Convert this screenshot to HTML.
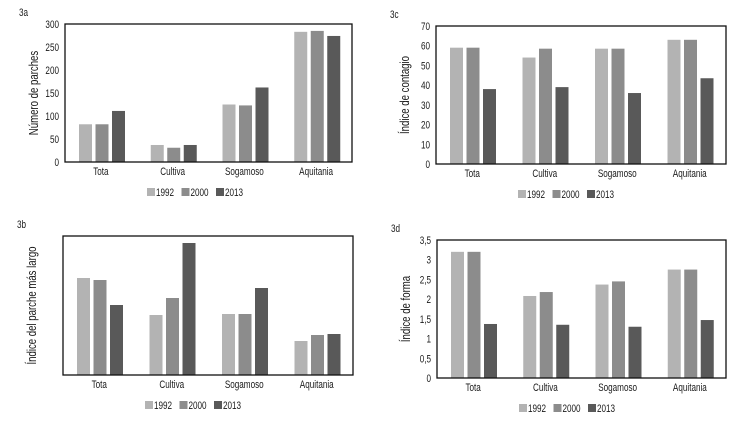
<!DOCTYPE html>
<html><head><meta charset="utf-8"><style>
html,body{margin:0;padding:0;background:#fff;}
svg{display:block;font-family:"Liberation Sans Narrow","Liberation Sans",sans-serif;}
</style></head><body>
<svg id="chart" width="734" height="424" viewBox="0 0 734 424" xmlns="http://www.w3.org/2000/svg"></svg>
<script>
const categories = ["Tota","Cultiva","Sogamoso","Aquitania"];
const years = ["1992","2000","2013"];
const colors = ["#b3b3b3","#8c8c8c","#595959"];
// 3a Número de parches
const a1992 = [82,37,125,283];
const a2000 = [82,31,123,285];
const a2013 = [111,37,162,274];
const aTicks = ["0","50","100","150","200","250","300"];
// 3c Índice de contagio
const c1992 = [59,54,58.5,63];
const c2000 = [59,58.5,58.5,63];
const c2013 = [38,39,36,43.5];
const cTicks = ["0","10","20","30","40","50","60","70"];
// 3b Índice del parche más largo (no axis values)
const b1992 = [97,60,61,34];
const b2000 = [95,77,61,40];
const b2013 = [70,132,87,41];
// 3d Índice de forma
const d1992 = [3.2,2.08,2.37,2.75];
const d2000 = [3.2,2.18,2.45,2.75];
const d2013 = [1.37,1.35,1.3,1.47];
const dTicks = ["0","0,5","1","1,5","2","2,5","3","3,5"];

const NS="http://www.w3.org/2000/svg";
const svg=document.getElementById('chart');
function mk(tag,attrs,parent){const e=document.createElementNS(NS,tag);for(const k in attrs)e.setAttribute(k,attrs[k]);(parent||svg).appendChild(e);return e;}
function txt(parent,x,y,s,size,anchor,rot){
  const t=mk('text',{x:0,y:0,'font-size':size,'text-anchor':anchor||'start',fill:'#1a1a1a',
    transform:`translate(${x},${y})`+(rot?` rotate(${rot})`:'')+' scale(0.74,1)'},parent);
  t.textContent=s;return t;
}

function panel(id,label,L,R,T,B,series,max,ticks,ytitle){
  const g=mk('g',{});
  
  
  const y=v=>B-(v/max)*(B-T);
  const band=(R-L)/categories.length;
  const x=(ci,si)=>L+ci*band+14+si*16.5;
  const lab=txt(g,L-46,T-8,label,11);
  
  
  series.forEach((s,si)=>s.forEach((v,ci)=>{
    const r=mk('rect',{x:x(ci,si),y:y(v),width:13,height:B-y(v),fill:colors[si]},g);
    
    
  }));
  const box=mk('rect',{x:L,y:T,width:R-L,height:B-T,fill:'none',stroke:'#111','stroke-width':1.3},g);
  
  
  if(ticks){ticks.forEach((t,i)=>{
    const v=i*max/(ticks.length-1);
    const tx=txt(g,L-6,y(v)+4,t,11,'end');
    
    
  });}
  categories.forEach((c,ci)=>{
    const tx=txt(g,L+ci*band+band/2,B+13,c,11,'middle');
    
    
  });
  const yt=txt(g,L-27,(T+B)/2,ytitle,13,'middle',-90);
  
  
  const lx=L+82, ly=B+30;
  years.forEach((yr,i)=>{
    const sw=mk('rect',{x:lx+i*34.5,y:ly-4,width:8,height:8,fill:colors[i]},g);
    
    
    const tx=txt(g,lx+i*34.5+9,ly+4,yr,11);
    
    
  });
}
panel('panel-3a','3a',65,352,24,162,[a1992,a2000,a2013],300,aTicks,'Número de parches');
panel('panel-3c','3c',436,726,26,164,[c1992,c2000,c2013],70,cTicks,'Índice de contagio');
panel('panel-3b','3b',63,353,236,375,[b1992,b2000,b2013],139,null,'Índice del parche más largo');
panel('panel-3d','3d',437,726,240,378,[d1992,d2000,d2013],3.5,dTicks,'Índice de forma');
</script>
</body></html>
